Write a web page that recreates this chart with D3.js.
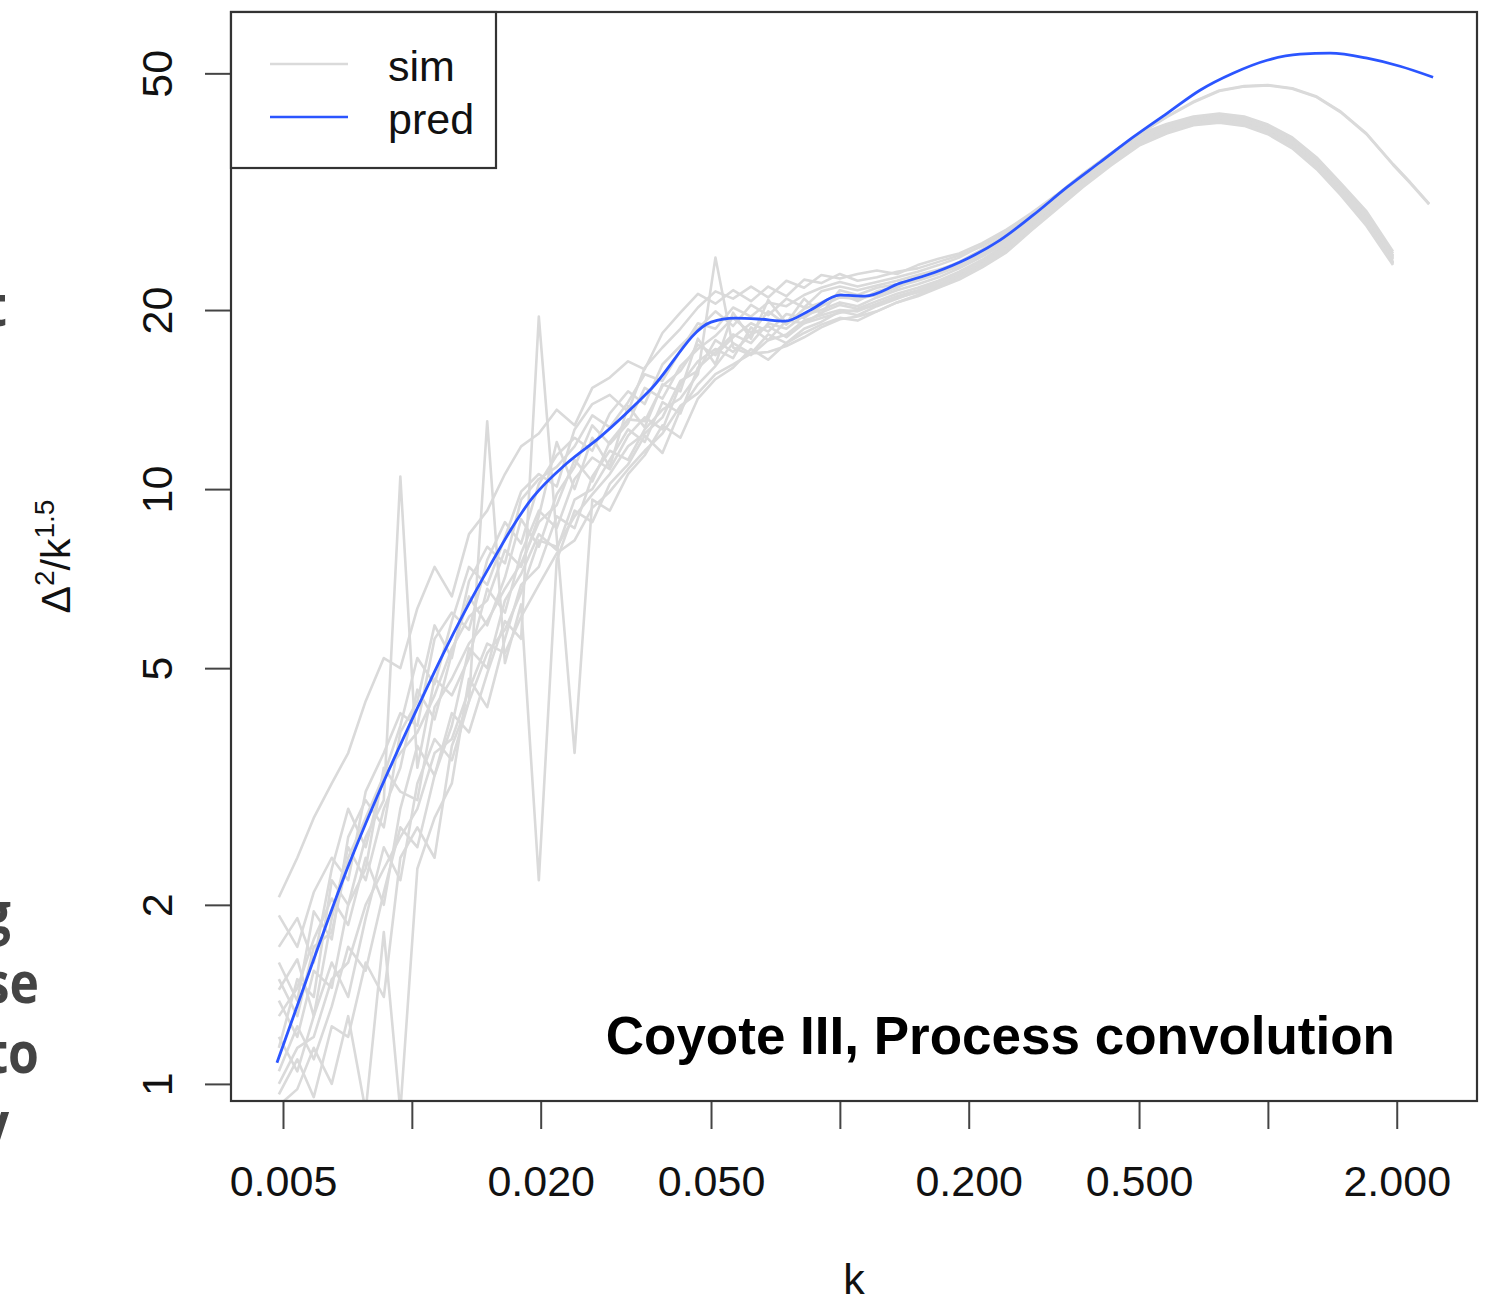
<!DOCTYPE html>
<html>
<head>
<meta charset="utf-8">
<script src="https://cdn.jsdelivr.net/npm/d3@7"></script>
<style>
  body { margin: 0; background: #fff; }
  svg { display: block; }
</style>
</head>
<body>
<script>
// k grid shared by the simulated spectra
const simK = [0.00489, 0.0054, 0.0059, 0.0065, 0.0071, 0.0078, 0.0086, 0.0094, 0.0103, 0.0113,
  0.0124, 0.0136, 0.015, 0.0165, 0.018, 0.0198, 0.0218, 0.024, 0.0264, 0.029,
  0.032, 0.035, 0.0385, 0.0424, 0.0466, 0.0512, 0.0563, 0.062, 0.068, 0.075,
  0.0825, 0.0905, 0.1, 0.11, 0.122, 0.136, 0.152, 0.17, 0.19, 0.215,
  0.245, 0.28, 0.32, 0.37, 0.43, 0.5, 0.58, 0.67, 0.77, 0.88,
  1.0, 1.14, 1.3, 1.48, 1.7, 1.96, 2.15, 2.38];

// simulated runs (grey)
const sim1 = [2.06, 2.4, 2.8, 3.2, 3.6, 4.4, 5.2, 5.0, 6.3, 7.4,
  6.6, 8.4, 9.2, 10.6, 11.8, 12.4, 13.6, 12.8, 14.8, 15.4,
  16.4, 15.9, 18.3, 19.8, 21.3, 20.5, 21.6, 20.7, 21.9, 21.1,
  22.5, 22.2, 23.0, 22.4, 22.7, 23.2, 23.5, 24.1, 24.7, 25.6,
  27.1, 28.9, 31.0, 33.7, 36.5, 39.3, 40.9, 42.1, 42.6, 42.1,
  40.8, 38.8, 35.9, 32.5, 29.1, 24.9];
const sim2 = [1.92, 1.7, 2.1, 2.4, 2.2, 3.1, 3.6, 4.2, 4.0, 5.6,
  6.2, 5.8, 7.6, 8.8, 8.1, 10.2, 11.4, 12.2, 11.6, 13.4,
  14.6, 13.9, 16.2, 17.4, 18.6, 19.9, 18.8, 20.4, 19.6, 20.9,
  20.2, 21.5, 21.9, 21.6, 22.0, 22.4, 22.9, 23.4, 24.0, 25.1,
  26.5, 28.6, 30.8, 33.4, 36.1, 38.9, 40.7, 41.9, 42.3, 41.8,
  40.5, 38.5, 35.6, 32.3, 28.8, 24.7];
const sim3 = [1.44, 1.62, 1.3, 1.9, 2.5, 2.2, 2.9, 3.4, 4.6, 4.1,
  5.3, 6.6, 5.9, 7.1, 8.9, 8.0, 9.8, 10.9, 12.8, 11.9,
  12.9, 14.8, 14.2, 16.1, 17.2, 18.1, 19.4, 18.3, 19.9, 18.9,
  20.1, 20.6, 21.3, 20.7, 21.5, 21.9, 22.4, 23.0, 23.7, 24.8,
  26.2, 28.3, 30.5, 33.2, 35.9, 38.7, 40.5, 41.7, 42.1, 41.6,
  40.3, 38.3, 35.4, 32.1, 28.6, 24.5];
const sim4 = [1.38, 1.2, 1.55, 1.45, 2.0, 2.6, 3.0, 10.5, 3.4, 4.8,
  4.5, 5.2, 6.8, 6.2, 7.8, 9.2, 8.6, 10.4, 11.3, 10.8,
  12.3, 13.2, 12.6, 15.0, 16.4, 17.2, 16.6, 18.7, 17.8, 19.2,
  19.0, 19.8, 20.4, 20.1, 20.7, 21.3, 21.8, 22.4, 23.2, 24.3,
  25.8, 27.9, 30.1, 32.8, 35.6, 38.4, 40.2, 41.4, 41.9, 41.4,
  40.1, 38.0, 35.1, 31.8, 28.3, 24.3];
const sim5 = [1.2, 1.05, 1.3, 1.6, 1.4, 1.9, 2.5, 2.2, 3.2, 3.8,
  3.5, 4.4, 13.0, 5.1, 6.4, 2.2, 7.6, 9.2, 8.8, 10.2,
  11.0, 12.3, 11.5, 13.6, 15.0, 16.1, 17.6, 16.9, 18.2, 17.6,
  18.6, 19.1, 19.9, 19.6, 20.3, 20.9, 21.5, 22.1, 22.9, 24.0,
  25.5, 27.6, 29.9, 32.6, 35.4, 38.2, 40.0, 41.3, 41.7, 41.2,
  39.9, 37.8, 34.9, 31.6, 28.1, 24.1];
const sim6 = [1.05, 1.25, 1.1, 1.35, 1.7, 1.55, 2.1, 2.7, 2.5, 3.3,
  4.2, 3.9, 4.9, 6.0, 5.6, 19.5, 8.3, 3.6, 9.6, 9.2,
  10.6, 11.4, 12.8, 12.2, 14.2, 15.3, 16.0, 17.2, 16.5, 17.6,
  18.3, 18.9, 19.4, 19.2, 19.9, 20.6, 21.2, 21.9, 22.7, 23.8,
  25.2, 27.4, 29.7, 32.4, 35.2, 38.0, 39.8, 41.1, 41.5, 41.0,
  39.7, 37.6, 34.7, 31.4, 27.9, 23.9];
const sim7 = [0.92, 0.98, 1.15, 1.0, 1.3, 0.9, 1.8, 0.9, 2.3, 2.8,
  3.2, 4.8, 4.3, 5.6, 6.9, 7.4, 9.0, 8.6, 10.5, 11.6,
  11.2, 12.6, 13.6, 14.2, 15.6, 24.5, 17.3, 16.8, 17.8, 18.2,
  19.2, 19.6, 20.0, 19.9, 20.5, 21.1, 21.6, 22.3, 23.1, 24.2,
  25.6, 27.7, 29.9, 32.6, 35.3, 38.1, 39.9, 41.2, 41.6, 41.1,
  39.8, 37.7, 34.8, 31.5, 28.0, 24.0];
const sim8 = [1.3, 1.45, 1.75, 2.05, 1.85, 2.4, 2.0, 2.9, 3.7, 3.3,
  4.0, 5.4, 5.0, 6.5, 7.2, 8.4, 7.9, 9.6, 10.0, 11.2,
  12.6, 12.0, 14.0, 13.4, 16.0, 17.0, 18.2, 17.6, 19.0, 18.6,
  19.6, 20.0, 20.6, 20.3, 21.0, 21.6, 22.1, 22.7, 23.5, 24.6,
  26.0, 28.1, 30.3, 33.0, 35.7, 38.5, 40.3, 41.5, 41.9, 41.4,
  40.1, 38.1, 35.2, 31.9, 28.4, 24.4];
const sim9 = [1.6, 1.38, 1.95, 1.75, 2.6, 3.0, 2.7, 3.9, 4.4, 5.9,
  5.2, 7.0, 8.0, 7.5, 9.6, 10.4, 10.9, 11.8, 13.3, 12.7,
  14.0, 15.6, 15.2, 17.1, 19.0, 18.6, 20.2, 19.5, 20.6, 20.3,
  21.2, 21.8, 22.3, 21.9, 22.3, 22.7, 23.2, 23.8, 24.5, 25.7,
  27.1, 29.0, 31.1, 33.9, 36.7, 39.6, 42.3, 44.8, 46.8, 47.6,
  47.8, 47.2, 45.7, 43.1, 39.6, 35.2, 32.8, 30.2];
const sim10 = [1.15, 1.5, 1.4, 2.2, 2.0, 2.3, 3.4, 3.1, 3.0, 4.3,
  4.8, 5.5, 6.0, 6.8, 7.5, 8.8, 9.4, 11.2, 10.3, 12.0,
  13.1, 13.0, 14.9, 15.8, 17.5, 16.8, 18.0, 19.0, 18.4, 19.7,
  19.4, 20.3, 21.0, 20.9, 21.2, 21.8, 22.6, 23.3, 24.1, 25.3,
  26.8, 28.8, 31.0, 33.8, 36.6, 39.5, 42.2, 44.7, 46.7, 47.5,
  47.7, 47.1, 45.6, 43.0, 39.5, 35.1, 32.7, 30.1];
const sim11 = [1.0, 1.15, 1.2, 1.5, 1.6, 2.0, 2.3, 2.6, 2.9, 3.6,
  3.8, 4.6, 5.5, 5.3, 6.1, 6.9, 7.8, 8.2, 9.3, 9.9,
  10.8, 11.6, 12.4, 13.8, 14.5, 15.6, 16.2, 16.9, 17.0, 17.4,
  18.0, 18.7, 19.3, 19.5, 19.9, 20.6, 21.1, 21.8, 22.5, 23.6,
  25.0, 27.2, 29.5, 32.2, 35.0, 37.8, 39.6, 40.9, 41.3, 40.8,
  39.5, 37.4, 34.5, 31.2, 27.7, 23.8];
const sim12 = [1.7, 1.9, 1.6, 2.3, 2.9, 2.5, 3.3, 4.0, 5.2, 4.7,
  6.0, 7.4, 6.9, 8.3, 9.9, 10.6, 10.1, 12.6, 13.9, 14.4,
  13.5, 16.0, 17.3, 18.6, 20.2, 21.5, 20.9, 21.9, 21.0, 22.4,
  21.8, 22.9, 22.6, 23.0, 23.3, 23.0, 23.8, 24.4, 24.9, 25.9,
  27.3, 29.1, 31.2, 33.9, 36.7, 39.5, 41.1, 42.3, 42.8, 42.3,
  41.0, 39.0, 36.1, 32.7, 29.3, 25.1];
const sim13 = [1.5, 1.3, 1.7, 1.8, 2.4, 2.8, 3.3, 3.6, 3.9, 4.5,
  5.4, 6.1, 6.5, 7.9, 7.4, 9.0, 12.0, 10.0, 12.2, 10.9,
  13.8, 12.7, 15.0, 14.6, 17.9, 16.2, 19.8, 17.9, 20.8, 19.0,
  20.9, 19.7, 21.6, 21.2, 21.8, 22.1, 22.7, 23.1, 23.9, 25.0,
  26.4, 28.5, 30.7, 33.3, 36.0, 38.8, 40.6, 41.8, 42.2, 41.7,
  40.4, 38.4, 35.5, 32.2, 28.7, 24.6];
const sim14 = [0.96, 1.1, 0.95, 1.25, 1.2, 1.6, 1.4, 2.4, 2.7, 2.4,
  3.7, 4.4, 5.3, 5.8, 6.7, 8.2, 8.0, 9.0, 9.8, 10.6,
  11.8, 12.4, 13.2, 15.2, 15.8, 17.8, 17.0, 18.2, 18.8, 18.0,
  19.0, 19.4, 19.8, 20.0, 20.4, 21.0, 21.4, 22.0, 22.8, 23.9,
  25.4, 27.5, 29.8, 32.5, 35.3, 38.1, 39.9, 41.2, 41.6, 41.1,
  39.8, 37.7, 34.8, 31.5, 28.0, 24.0];

// emulator prediction (blue)
const predK = [0.00484, 0.00578, 0.0069, 0.00829, 0.01028, 0.01183, 0.01467, 0.01919, 0.02305, 0.02752,
  0.03602, 0.05, 0.0569, 0.0651, 0.0745, 0.0852, 0.1001, 0.1145, 0.1383, 0.1669,
  0.1993, 0.2367, 0.2827, 0.3395, 0.4054, 0.4842, 0.5813, 0.694, 0.829, 0.996,
  1.189, 1.397, 1.705, 2.036, 2.432];
const predV = [1.085, 1.554, 2.203, 3.036, 4.27, 5.28, 7.09, 9.69, 11.06, 12.23,
  14.67, 19.09, 19.39, 19.31, 19.16, 19.99, 21.19, 21.11, 22.19, 23.15,
  24.44, 26.21, 28.87, 32.18, 35.44, 39.05, 42.83, 46.84, 50.02, 52.6,
  53.84, 54.06, 53.02, 51.39, 49.25];

const xTicks = [0.005, 0.01, 0.02, 0.05, 0.1, 0.2, 0.5, 1, 2];
const xTickLabels = ["0.005", "", "0.020", "0.050", "", "0.200", "0.500", "", "2.000"];
const yTicks = [1, 2, 5, 10, 20, 50];

const W = 1488, H = 1304;
const box = {left: 231, right: 1477, top: 12, bottom: 1101};

const svg = d3.select("body").append("svg")
    .attr("width", W)
    .attr("height", H);

svg.append("rect").attr("width", W).attr("height", H).attr("fill", "#fff");

const x = d3.scaleLog().domain([0.00378, 3.08]).range([box.left, box.right]);
const y = d3.scaleLog().domain([0.936, 63.4]).range([box.bottom, box.top]);

svg.append("clipPath").attr("id", "plotclip")
  .append("rect")
    .attr("x", box.left).attr("y", box.top)
    .attr("width", box.right - box.left).attr("height", box.bottom - box.top);

const plot = svg.append("g").attr("clip-path", "url(#plotclip)");

const simLine = d3.line()
    .defined(d => d != null)
    .x((d, i) => x(simK[i]))
    .y(d => y(d));

const sims = [sim1, sim2, sim3, sim4, sim5, sim6, sim7, sim8, sim9, sim10, sim11, sim12, sim13, sim14];
plot.selectAll("path.sim")
    .data(sims)
    .enter()
    .append("path")
    .attr("class", "sim")
    .attr("d", simLine)
    .attr("fill", "none")
    .attr("stroke", "#dadada")
    .attr("stroke-width", 2.6)
    .attr("stroke-linejoin", "round");

const predLine = d3.line()
    .x((d, i) => x(predK[i]))
    .y(d => y(d))
    .curve(d3.curveMonotoneX);

plot.append("path")
    .attr("d", predLine(predV))
    .attr("fill", "none")
    .attr("stroke", "#2b55ff")
    .attr("stroke-width", 2.8);

// axes
const xAxis = d3.axisBottom(x)
    .tickValues(xTicks)
    .tickFormat((d, i) => xTickLabels[i])
    .tickSize(28)
    .tickPadding(36);

const gx = svg.append("g")
    .attr("transform", `translate(0, ${box.bottom})`)
    .call(xAxis);
gx.select(".domain").remove();
gx.selectAll(".tick line").attr("stroke", "#444").attr("stroke-width", 2);
gx.selectAll(".tick text")
    .attr("fill", "#111")
    .style("font-family", "'Liberation Sans', Arial, sans-serif")
    .style("font-size", "43px");

const yAxis = d3.axisLeft(y)
    .tickValues(yTicks)
    .tickFormat(d3.format("d"))
    .tickSize(26);

const gy = svg.append("g")
    .attr("transform", `translate(${box.left}, 0)`)
    .call(yAxis);
gy.select(".domain").remove();
gy.selectAll(".tick line").attr("stroke", "#444").attr("stroke-width", 2);
gy.selectAll(".tick text")
    .attr("x", null)
    .attr("dy", null)
    .attr("text-anchor", "middle")
    .attr("transform", "translate(-59, 0) rotate(-90)")
    .attr("fill", "#111")
    .style("font-family", "'Liberation Sans', Arial, sans-serif")
    .style("font-size", "43px");

// plot box
svg.append("rect")
    .attr("x", box.left).attr("y", box.top)
    .attr("width", box.right - box.left).attr("height", box.bottom - box.top)
    .attr("fill", "none")
    .attr("stroke", "#333")
    .attr("stroke-width", 2.2);

// axis titles
svg.append("text")
    .attr("x", (box.left + box.right) / 2)
    .attr("y", 1294)
    .attr("text-anchor", "middle")
    .attr("fill", "#111")
    .style("font-family", "'Liberation Sans', Arial, sans-serif")
    .style("font-size", "43px")
    .text("k");

const ylab = svg.append("text")
    .attr("transform", `translate(70, ${(box.top + box.bottom) / 2}) rotate(-90)`)
    .attr("text-anchor", "middle")
    .attr("fill", "#111")
    .style("font-family", "'Liberation Sans', Arial, sans-serif")
    .style("font-size", "41px");
ylab.append("tspan").text("\u0394");
ylab.append("tspan").attr("dy", -16).style("font-size", "28px").text("2");
ylab.append("tspan").attr("dy", 16).text("/k");
ylab.append("tspan").attr("dy", -16).style("font-size", "28px").text("1.5");

// legend
const legend = svg.append("g");
legend.append("rect")
    .attr("x", box.left).attr("y", box.top)
    .attr("width", 265).attr("height", 156)
    .attr("fill", "#fff")
    .attr("stroke", "#333")
    .attr("stroke-width", 2.2);
const legendItems = [{name: "sim", color: "#dadada"}, {name: "pred", color: "#2b55ff"}];
legendItems.forEach((it, i) => {
  const cy = 64 + i * 53;
  legend.append("line")
      .attr("x1", 270).attr("x2", 348)
      .attr("y1", cy).attr("y2", cy)
      .attr("stroke", it.color)
      .attr("stroke-width", 2.6);
  legend.append("text")
      .attr("x", 388).attr("y", cy + 17)
      .attr("fill", "#111")
      .style("font-family", "'Liberation Sans', Arial, sans-serif")
      .style("font-size", "43px")
      .text(it.name);
});

// panel title
svg.append("text")
    .attr("x", 1395).attr("y", 1054)
    .attr("text-anchor", "end")
    .attr("fill", "#000")
    .style("font-family", "'Liberation Sans', Arial, sans-serif")
    .style("font-weight", "bold")
    .style("font-size", "53px")
    .text("Coyote III, Process convolution");

// fragments of slide text cut off at the left edge
const fragments = [
  {t: "t", x: 7, y: 326},
  {t: "g", x: 11, y: 933},
  {t: "se", x: 39, y: 1003},
  {t: "to", x: 39, y: 1073},
  {t: "y", x: 9, y: 1143}
];
svg.selectAll("text.frag")
    .data(fragments)
    .enter()
    .append("text")
    .attr("class", "frag")
    .attr("transform", d => `translate(${d.x}, ${d.y}) scale(0.86, 1)`)
    .attr("text-anchor", "end")
    .attr("fill", "#444")
    .style("font-family", "'Open Sans', sans-serif")
    .style("font-weight", "bold")
    .style("font-size", "58px")
    .text(d => d.t);
</script>
</body>
</html>
